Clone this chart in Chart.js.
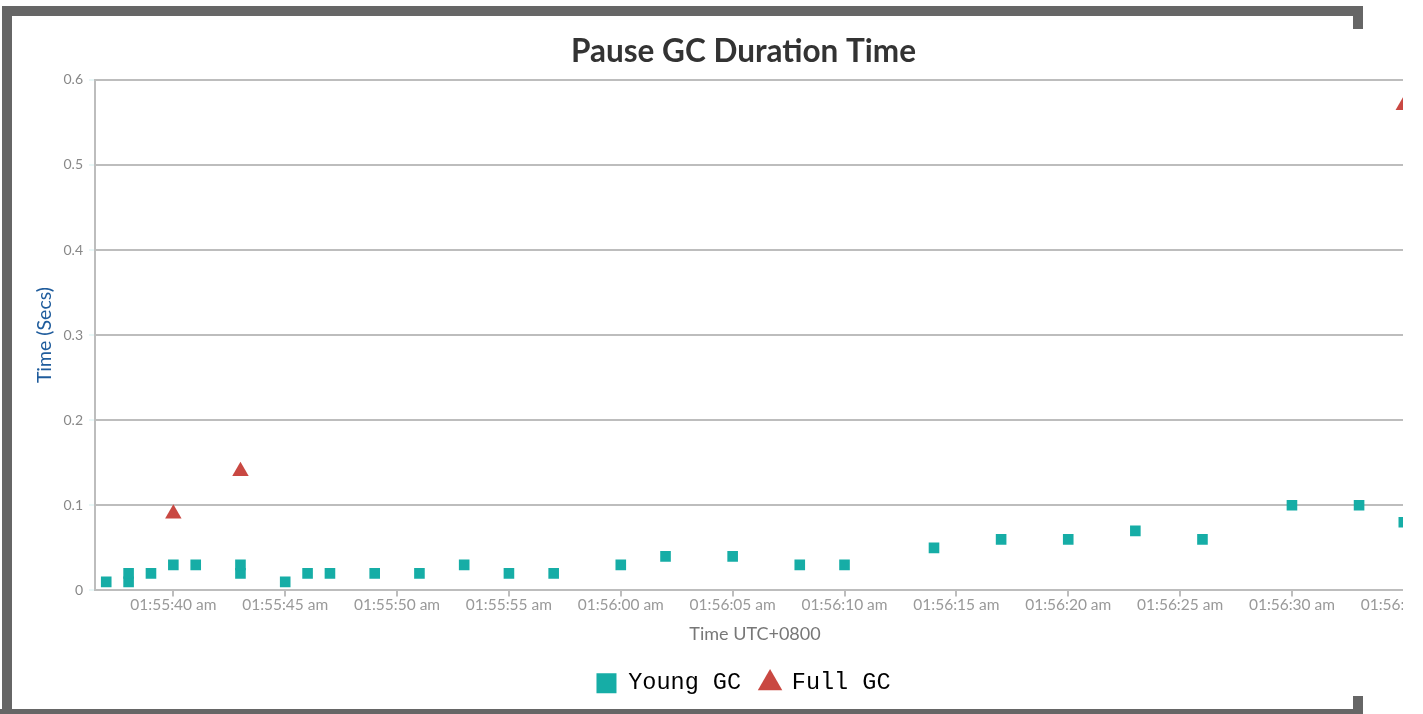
<!DOCTYPE html>
<html>
<head>
<meta charset="utf-8">
<title>Pause GC Duration Time</title>
<script src="https://cdn.jsdelivr.net/npm/chart.js@4"></script>
<style>
  html, body { margin: 0; padding: 0; background: #fff; }
  body { width: 1423px; height: 714px; position: relative; overflow: hidden; }
  .bar { position: absolute; background: #666; }
  #clip { position: absolute; left: 12px; top: 16px; width: 1391px; height: 693px; overflow: hidden; }
  #box { position: relative; width: 1463px; height: 693px; }
</style>
</head>
<body>
<div id="clip"><div id="box"><canvas id="gcChart"></canvas></div></div>
<div class="bar" style="left:2px;top:6px;width:1361px;height:10px"></div>
<div class="bar" style="left:2px;top:6px;width:10px;height:708px"></div>
<div class="bar" style="left:1353px;top:16px;width:10px;height:13px"></div>
<div class="bar" style="left:0px;top:709px;width:1363px;height:5px"></div>
<div class="bar" style="left:1353px;top:696px;width:10px;height:13px"></div>
<script>
// pause times (clock time, seconds)
const youngTimes = ["01:55:37","01:55:38","01:55:38","01:55:39","01:55:40","01:55:41","01:55:43","01:55:43",
  "01:55:45","01:55:46","01:55:47","01:55:49","01:55:51","01:55:53","01:55:55","01:55:57","01:56:00",
  "01:56:02","01:56:05","01:56:08","01:56:10","01:56:14","01:56:17","01:56:20","01:56:23","01:56:26",
  "01:56:30","01:56:33","01:56:35"];
const youngPause = [0.01, 0.01, 0.02, 0.02, 0.03, 0.03, 0.02, 0.03,
  0.01, 0.02, 0.02, 0.02, 0.02, 0.03, 0.02, 0.02, 0.03,
  0.04, 0.04, 0.03, 0.03, 0.05, 0.06, 0.06, 0.07, 0.06,
  0.10, 0.10, 0.08];
const fullTimes = ["01:55:40", "01:55:43", "01:56:35"];
const fullPause = [0.09, 0.14, 0.57];

const axisStart = "01:55:36.5";
const axisEnd = "01:56:35.5";
const yTicks = [0, 0.1, 0.2, 0.3, 0.4, 0.5, 0.6];

function toSec(s) {
  const p = s.split(":").map(Number);
  return p[0] * 3600 + p[1] * 60 + p[2];
}
function fmt(v) {
  let h = Math.floor(v / 3600), m = Math.floor((v % 3600) / 60), s = Math.round(v % 60);
  const ampm = h >= 12 ? "pm" : "am";
  h = h % 12; if (h === 0) h = 12;
  const pad = n => String(n).padStart(2, "0");
  return pad(h) + ":" + pad(m) + ":" + pad(s) + " " + ampm;
}

const teal = "#16ada6";
const red = "#c94842";
const gridCol = "#bdbdbd";

new Chart(document.getElementById("gcChart"), {
  type: "scatter",
  data: {
    datasets: [{
      label: "Young GC",
      data: youngTimes.map((t, i) => ({ x: toSec(t), y: youngPause[i] })),
      pointStyle: "rect",
      pointRadius: 7.5,
      pointHoverRadius: 7.5,
      backgroundColor: teal,
      borderColor: teal,
      borderWidth: 0
    }, {
      label: "Full GC",
      data: fullTimes.map((t, i) => ({ x: toSec(t), y: fullPause[i] })),
      pointStyle: "triangle",
      pointRadius: 9.5,
      pointHoverRadius: 9.5,
      backgroundColor: red,
      borderColor: red,
      borderWidth: 0
    }]
  },
  options: {
    responsive: true,
    maintainAspectRatio: false,
    animation: false,
    layout: { padding: { left: 20, right: 20, top: 0, bottom: 4 } },
    plugins: {
      title: {
        display: true,
        text: "Pause GC Duration Time",
        color: "#333",
        font: { family: "Lato", size: 31.5, weight: "bold" },
        padding: { top: 17, bottom: 9 }
      },
      legend: {
        position: "bottom",
        labels: {
          usePointStyle: true,
          boxWidth: 20,
          boxHeight: 20,
          color: "#000",
          padding: 19,
          font: { family: "Liberation Mono", size: 23.5 }
        }
      },
      tooltip: { enabled: false }
    },
    scales: {
      x: {
        type: "linear",
        min: toSec(axisStart),
        max: toSec(axisEnd),
        // the plot runs past the visible frame; keep its right edge where the picture has it
        afterFit: axis => { axis.paddingRight = 60; },
        border: { color: gridCol, width: 2 },
        grid: { drawOnChartArea: false, drawTicks: true, tickLength: 6, color: gridCol, lineWidth: 2 },
        ticks: {
          stepSize: 5,
          includeBounds: false,
          autoSkip: false,
          maxRotation: 0,
          color: "#999",
          padding: 1,
          font: { family: "Lato", size: 15.5, lineHeight: 1 },
          callback: v => fmt(v)
        },
        title: {
          display: true,
          text: "Time UTC+0800",
          color: "#777",
          font: { family: "Lato", size: 18 },
          padding: { top: 9, bottom: 8 }
        }
      },
      y: {
        min: yTicks[0],
        max: yTicks[yTicks.length - 1],
        border: { color: gridCol, width: 2 },
        grid: { color: gridCol, lineWidth: 2, tickLength: 6, tickColor: "#e8f7f7" },
        ticks: {
          stepSize: 0.1,
          color: "#888",
          padding: 6,
          font: { family: "Lato", size: 14 },
          callback: v => String(+v.toFixed(1))
        },
        afterBuildTicks: axis => { axis.ticks = yTicks.map(v => ({ value: v })); },
        title: {
          display: true,
          text: "Time (Secs)",
          color: "#1f5c9c",
          font: { family: "Lato", size: 19.5, lineHeight: 1 },
          padding: { top: 3, bottom: 3 }
        }
      }
    }
  }
});
</script>
</body>
</html>
